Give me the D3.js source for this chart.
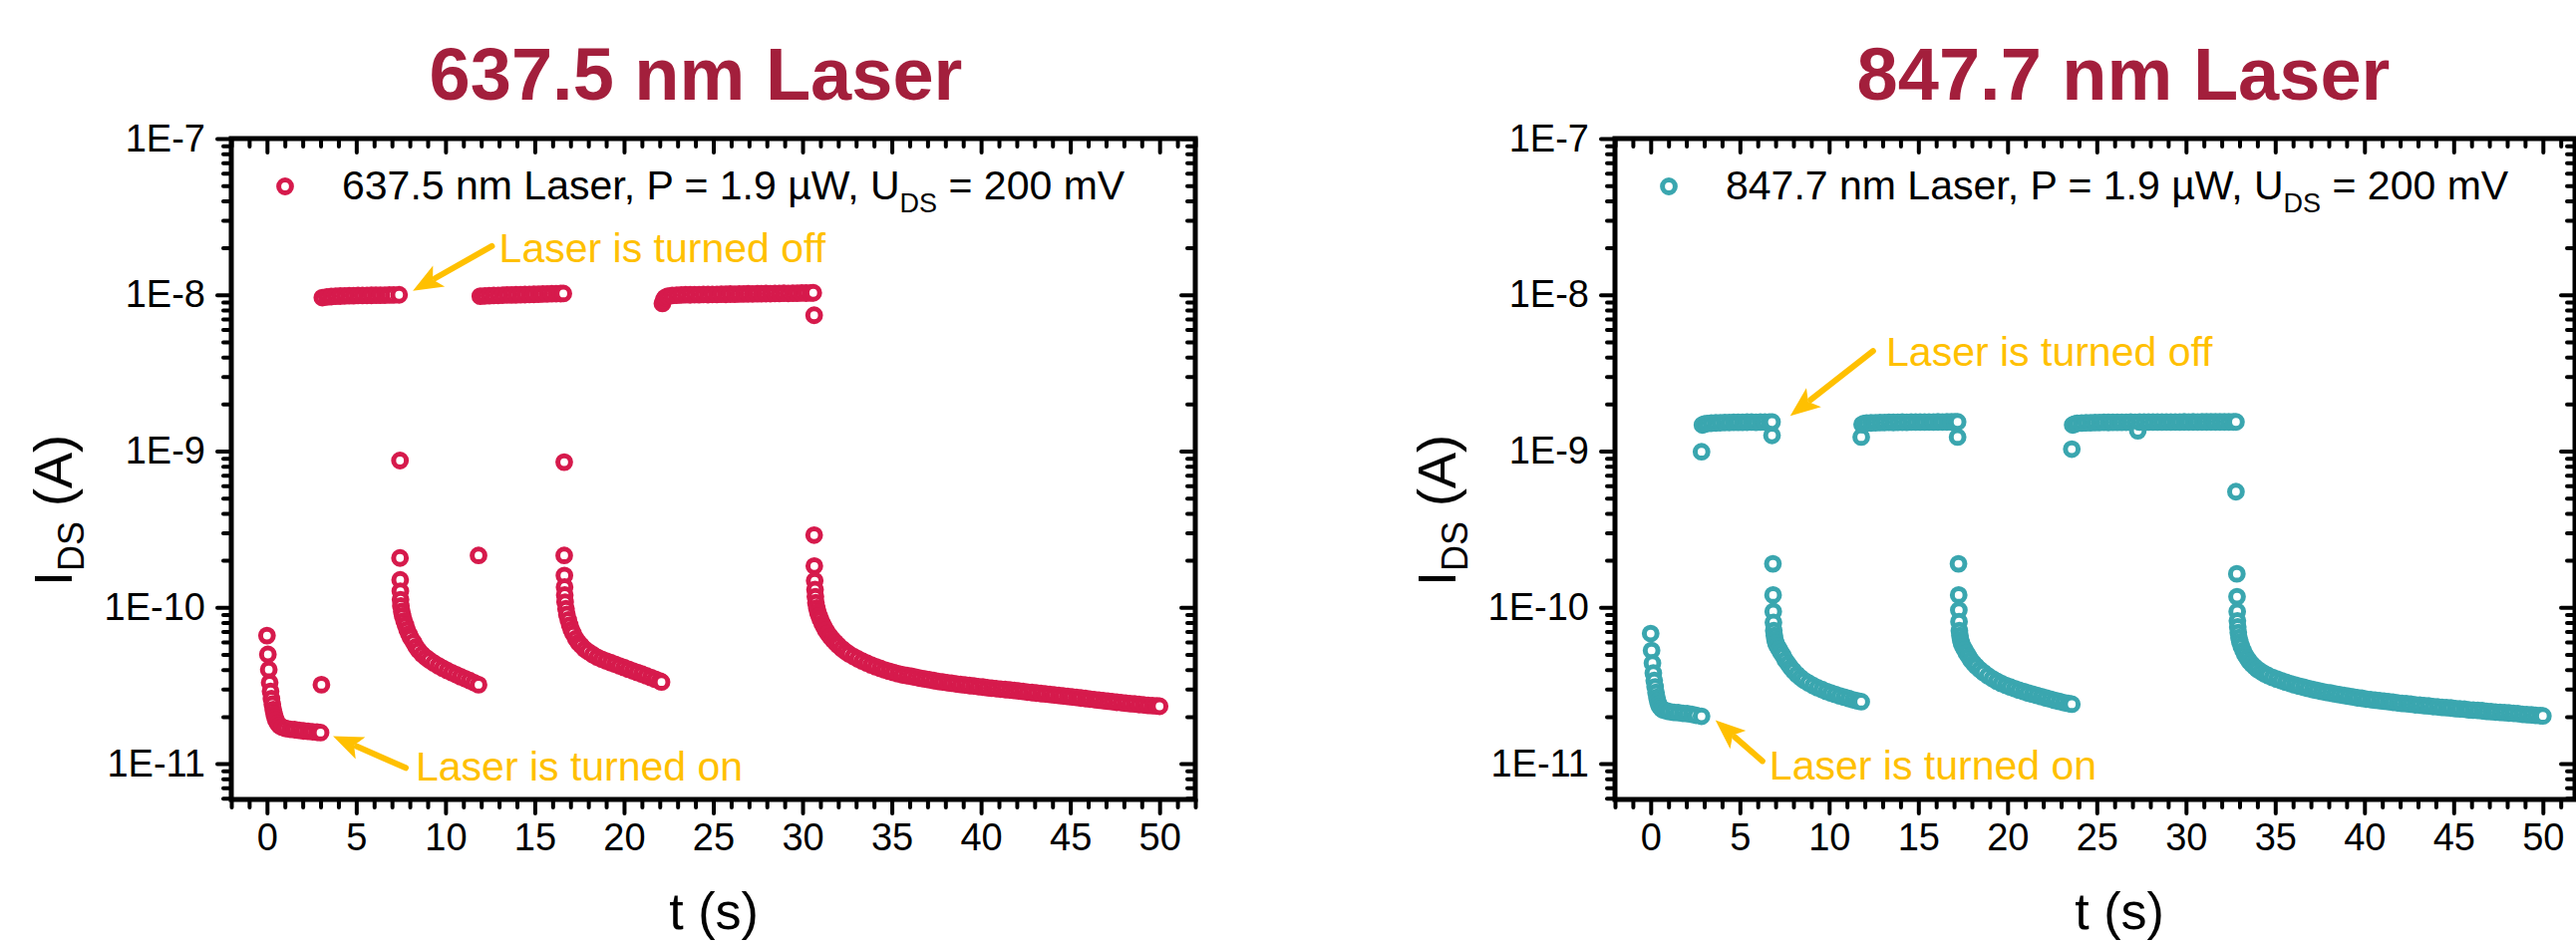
<!DOCTYPE html>
<html>
<head>
<meta charset="utf-8">
<script src="https://cdnjs.cloudflare.com/ajax/libs/d3/7.8.5/d3.min.js"></script>
<style>
  body { margin: 0; background: #fff; }
</style>
</head>
<body>
<script>
    // ---- data (current in pA, time in s) ----

    // 637.5 nm laser
    var redDark0 = [[0,66],[0.05,50],[0.1,40],[0.15,33],[0.2,29],[0.25,26],[0.3,24],[0.35,22.2],[0.4,20.8],[0.45,19.8],[0.5,19],[0.6,18.1],[0.7,17.5],[0.85,17.1],[1.05,16.8],[1.3,16.6],[1.55,16.5],[1.8,16.35],[2.05,16.2],[2.3,16.1],[2.55,16.0],[2.8,15.9],[3.0,15.8]];
    var redOn1 = [[3.1,9600],[3.35,9700],[3.6,9750],[3.85,9800],[4.1,9820],[4.35,9850],[4.6,9870],[4.85,9880],[5.1,9900],[5.35,9910],[5.6,9920],[5.85,9930],[6.1,9940],[6.35,9950],[6.6,9960],[6.85,9970],[7.1,9980],[7.4,10000]];
    var redDecay1 = [[7.45,207],[7.46,150],[7.47,127],[7.48,112],[7.5,102],[7.55,94],[7.6,88],[7.68,82],[7.76,77],[7.85,72],[7.95,67.5],[8.05,64],[8.2,60],[8.35,56],[8.5,53],[8.7,50],[8.9,47.8],[9.1,46],[9.35,44],[9.6,42.3],[9.85,40.8],[10.1,39.4],[10.35,38.2],[10.6,37.1],[10.85,36],[11.1,35],[11.35,34],[11.6,33],[11.85,32]];
    var redOn2 = [[11.95,9800],[12.2,9850],[12.45,9880],[12.7,9900],[12.95,9920],[13.2,9950],[13.45,9970],[13.7,9990],[13.95,10000],[14.2,10020],[14.45,10040],[14.7,10060],[14.95,10080],[15.2,10100],[15.45,10120],[15.7,10140],[15.95,10160],[16.2,10180],[16.45,10190],[16.6,10200]];
    var redDecay2 = [[16.65,215],[16.66,160],[16.67,135],[16.68,120],[16.7,108],[16.75,98],[16.8,90],[16.88,83],[16.96,77],[17.05,72],[17.15,68],[17.3,63],[17.45,59.5],[17.6,57],[17.8,54],[18.0,52],[18.25,49.8],[18.5,48],[18.75,46.6],[19.0,45.4],[19.25,44.3],[19.5,43.3],[19.75,42.2],[20.0,41.2],[20.25,40.2],[20.5,39.2],[20.75,38.3],[21.0,37.4],[21.25,36.5],[21.5,35.6],[21.75,34.7],[22.0,33.8],[22.1,33.3]];
    var redOn3 = [[22.15,8800],[22.22,9300],[22.3,9600],[22.45,9800],[22.7,9900],[22.95,9950],[23.2,9980],[23.45,10010],[23.7,10000],[23.95,10030],[24.2,10020],[24.45,10050],[24.7,10040],[24.95,10070],[25.2,10060],[25.45,10090],[25.7,10080],[25.95,10110],[26.2,10100],[26.45,10130],[26.7,10120],[26.95,10150],[27.2,10140],[27.45,10170],[27.7,10160],[27.95,10190],[28.2,10180],[28.45,10210],[28.7,10200],[28.95,10230],[29.2,10220],[29.45,10250],[29.7,10240],[29.95,10270],[30.2,10260],[30.45,10280],[30.6,10300]];
    var redDecay3 = [[30.66,184],[30.68,148],[30.7,130],[30.72,117],[30.75,107],[30.8,99],[30.86,93],[30.93,88],[31.0,84],[31.1,79],[31.2,75],[31.3,71.5],[31.42,68],[31.55,65],[31.7,62],[31.85,59.5],[32.0,57.2],[32.2,54.5],[32.4,52.3],[32.6,50.4],[32.85,48.5],[33.1,46.8],[33.35,45.3],[33.6,44],[33.85,42.8],[34.1,41.7],[34.35,40.7],[34.6,39.8],[34.85,39],[35.1,38.3],[35.35,37.6],[35.6,37],[35.85,36.6],[36.1,36.2],[36.35,35.7],[36.6,35.2],[36.85,34.8],[37.1,34.4],[37.35,34.0],[37.6,33.6],[37.85,33.3],[38.1,33.0],[38.35,32.7],[38.6,32.4],[38.85,32.1],[39.1,31.9],[39.35,31.6],[39.6,31.4],[39.85,31.1],[40.1,30.9],[40.35,30.6],[40.6,30.4],[40.85,30.2],[41.1,30.0],[41.35,29.8],[41.6,29.6],[41.85,29.4],[42.1,29.2],[42.35,29.0],[42.6,28.7],[42.85,28.5],[43.1,28.3],[43.35,28.1],[43.6,27.9],[43.85,27.7],[44.1,27.5],[44.35,27.3],[44.6,27.1],[44.85,26.9],[45.1,26.7],[45.35,26.5],[45.6,26.3],[45.85,26.1],[46.1,25.9],[46.35,25.7],[46.6,25.5],[46.85,25.3],[47.1,25.1],[47.35,24.9],[47.6,24.7],[47.85,24.6],[48.1,24.4],[48.35,24.2],[48.6,24.1],[48.85,23.9],[49.1,23.8],[49.35,23.6],[49.6,23.5],[49.85,23.4],[50.0,23.3]];
    var redSingles = [[3.05,32],[7.45,870],[11.85,215],[16.65,850],[30.65,7400],[30.65,290]];

    // 847.7 nm laser
    var tealDark0 = [[0,68],[0.05,53],[0.1,44],[0.15,38],[0.2,34],[0.25,31],[0.3,28.5],[0.35,26.5],[0.4,25],[0.45,24],[0.5,23.2],[0.6,22.5],[0.7,22.1],[0.85,21.8],[1.05,21.5],[1.3,21.3],[1.55,21.2],[1.8,21.0],[2.05,20.9],[2.3,20.7],[2.55,20.4],[2.85,20.1]];
    var tealOn1 = [[2.9,1470],[3.0,1490],[3.15,1500],[3.4,1510],[3.65,1515],[3.9,1520],[4.15,1525],[4.4,1525],[4.65,1530],[4.9,1530],[5.15,1528],[5.4,1532],[5.65,1534],[5.9,1530],[6.15,1535],[6.4,1533],[6.65,1536],[6.8,1535]];
    var tealDecay1 = [[6.85,190],[6.86,120],[6.87,94],[6.88,80],[6.9,71],[6.93,66],[6.97,62],[7.02,59],[7.1,56.5],[7.2,54],[7.3,51.5],[7.42,49],[7.55,46],[7.7,43.5],[7.85,41.2],[8.0,39.3],[8.2,37.2],[8.4,35.5],[8.6,34.1],[8.85,32.8],[9.1,31.6],[9.35,30.6],[9.6,29.8],[9.85,29.0],[10.1,28.3],[10.35,27.7],[10.6,27.1],[10.85,26.6],[11.1,26.1],[11.35,25.6],[11.6,25.2],[11.8,24.9]];
    var tealOn2 = [[11.85,1480],[11.95,1500],[12.1,1510],[12.35,1515],[12.6,1520],[12.85,1522],[13.1,1525],[13.35,1528],[13.6,1526],[13.85,1530],[14.1,1532],[14.35,1530],[14.6,1534],[14.85,1533],[15.1,1535],[15.35,1534],[15.6,1536],[15.85,1535],[16.1,1537],[16.35,1536],[16.6,1538],[16.85,1537],[17.05,1538],[17.2,1538]];
    var tealDecay2 = [[17.25,190],[17.26,120],[17.27,96],[17.28,81],[17.3,71],[17.33,66],[17.37,62],[17.42,59],[17.5,56],[17.6,53.5],[17.7,51],[17.82,48.5],[17.95,46],[18.1,43.8],[18.25,42],[18.45,40],[18.65,38.3],[18.9,36.5],[19.15,35],[19.4,33.7],[19.65,32.6],[19.9,31.7],[20.15,30.9],[20.4,30.2],[20.65,29.5],[20.9,28.9],[21.15,28.3],[21.4,27.8],[21.65,27.3],[21.9,26.8],[22.15,26.3],[22.4,25.9],[22.65,25.4],[22.9,25.0],[23.15,24.6],[23.4,24.3],[23.6,24.0]];
    var tealOn3 = [[23.65,1470],[23.75,1490],[23.9,1505],[24.15,1512],[24.4,1518],[24.65,1520],[24.9,1523],[25.15,1525],[25.4,1527],[25.65,1526],[25.9,1528],[26.15,1530],[26.4,1529],[26.65,1531],[26.9,1532],[27.15,1530],[27.4,1533],[27.65,1532],[27.9,1534],[28.15,1533],[28.4,1535],[28.65,1534],[28.9,1536],[29.15,1535],[29.4,1536],[29.65,1535],[29.9,1537],[30.15,1536],[30.4,1537],[30.65,1536],[30.9,1538],[31.15,1537],[31.4,1538],[31.65,1537],[31.9,1538],[32.15,1538],[32.4,1537],[32.65,1538],[32.8,1538]];
    var tealDecay3 = [[32.85,164],[32.86,117],[32.87,94],[32.88,82],[32.9,75],[32.93,69],[32.97,64],[33.02,60],[33.1,56.5],[33.2,53],[33.3,50],[33.42,47.5],[33.55,45.2],[33.7,43.2],[33.85,41.6],[34.0,40.2],[34.2,38.8],[34.4,37.6],[34.6,36.6],[34.85,35.6],[35.1,34.7],[35.35,33.9],[35.6,33.2],[35.85,32.5],[36.1,31.9],[36.35,31.3],[36.6,30.8],[36.85,30.3],[37.1,29.8],[37.35,29.4],[37.6,29.0],[37.85,28.6],[38.1,28.3],[38.35,27.9],[38.6,27.6],[38.85,27.3],[39.1,27.0],[39.35,26.7],[39.6,26.4],[39.85,26.2],[40.1,25.9],[40.35,25.7],[40.6,25.5],[40.85,25.3],[41.1,25.1],[41.35,24.9],[41.6,24.7],[41.85,24.5],[42.1,24.3],[42.35,24.2],[42.6,24.0],[42.85,23.8],[43.1,23.7],[43.35,23.5],[43.6,23.4],[43.85,23.2],[44.1,23.1],[44.35,22.9],[44.6,22.8],[44.85,22.7],[45.1,22.5],[45.35,22.4],[45.6,22.3],[45.85,22.1],[46.1,22.0],[46.35,21.9],[46.6,21.8],[46.85,21.6],[47.1,21.5],[47.35,21.4],[47.6,21.3],[47.85,21.2],[48.1,21.1],[48.35,21.0],[48.6,20.9],[48.85,20.7],[49.1,20.6],[49.35,20.5],[49.6,20.4],[49.85,20.3],[50.0,20.2]];
    var tealSingles = [[2.85,990],[6.8,1260],[11.8,1230],[17.2,1230],[23.6,1030],[27.3,1350],[32.8,550]];

    // ticks
    var xMajor = [0, 5, 10, 15, 20, 25, 30, 35, 40, 45, 50];
    var yMajor = [1e-11, 1e-10, 1e-9, 1e-8, 1e-7];

    // annotations: [t, I(A)] for text, arrow start, arrow tip
    var redNotes = [
        {label: "Laser is turned off", text: [13.0, 1.62e-8], from: [12.6, 2.05e-8], to: [8.17, 1.06e-8]},
        {label: "Laser is turned on", text: [8.33, 7.76e-12], from: [7.77, 9.4e-12], to: [3.7, 1.5e-11]}
    ];
    var tealNotes = [
        {label: "Laser is turned off", text: [13.2, 3.5e-9], from: [12.46, 4.37e-9], to: [7.82, 1.68e-9]},
        {label: "Laser is turned on", text: [6.65, 7.9e-12], from: [6.26, 1.04e-11], to: [3.63, 1.9e-11]}
    ];

    var font = "'Liberation Sans', Arial, Helvetica, sans-serif";
    var plotTop = 139, plotBottom = 802;
    var markerR = 6.4, markerW = 5;

    var svg = d3.select("body").append("svg")
                .attr("width", 2584)
                .attr("height", 946)
                .style("background", "#fff");

    var yScale = d3.scaleLog().domain([5.9e-12, 1e-7]).range([plotBottom, plotTop]);

    // minor ticks on the log axis (2..9 per decade)
    var yMinor = [];
    for (var e = -12; e <= -8; e++) {
        for (var k = 2; k <= 9; k++) {
            var v = k * Math.pow(10, e);
            if (v >= 5.9e-12 && v <= 1e-7) yMinor.push(v);
        }
    }
    var yFormat = function(d) { return "1E" + Math.round(Math.log10(d)); };

    var styleAxis = function(sel) {
        sel.attr("font-family", font).attr("font-size", 38);
        sel.select(".domain").remove();
        sel.selectAll(".tick line")
           .attr("stroke", "#000")
           .attr("stroke-width", 4)
           .attr("stroke-linecap", "round");
        sel.selectAll(".tick text").attr("fill", "#000");
    };

    var drawPanel = function(p) {
        var xScale = d3.scaleLinear().domain(p.xDomain).range([p.left, p.right]);
        var xMinor = d3.range(p.xDomain[0], 53).filter(function(d) {
            return d % 5 !== 0 && d <= p.xDomain[1];
        });
        var g = svg.append("g");

        // bottom axis (ticks out)
        g.append("g").attr("transform", "translate(0," + plotBottom + ")")
         .call(d3.axisBottom(xScale).tickValues(xMajor).tickSize(14).tickPadding(10).tickFormat(d3.format("d")))
         .call(styleAxis);
        g.append("g").attr("transform", "translate(0," + plotBottom + ")")
         .call(d3.axisBottom(xScale).tickValues(xMinor).tickSize(8).tickFormat(""))
         .call(styleAxis);
        // top axis (mirror, ticks point down)
        g.append("g").attr("transform", "translate(0," + plotTop + ")")
         .call(d3.axisTop(xScale).tickValues(xMajor).tickSize(-14).tickFormat(""))
         .call(styleAxis);
        g.append("g").attr("transform", "translate(0," + plotTop + ")")
         .call(d3.axisTop(xScale).tickValues(xMinor).tickSize(-8).tickFormat(""))
         .call(styleAxis);
        // left axis
        g.append("g").attr("transform", "translate(" + p.left + ",0)")
         .call(d3.axisLeft(yScale).tickValues(yMajor).tickSize(14).tickPadding(12).tickFormat(yFormat))
         .call(styleAxis);
        g.append("g").attr("transform", "translate(" + p.left + ",0)")
         .call(d3.axisLeft(yScale).tickValues(yMinor).tickSize(8).tickFormat(""))
         .call(styleAxis);
        // right axis (mirror, ticks point left)
        g.append("g").attr("transform", "translate(" + p.right + ",0)")
         .call(d3.axisRight(yScale).tickValues(yMajor).tickSize(-14).tickFormat(""))
         .call(styleAxis);
        g.append("g").attr("transform", "translate(" + p.right + ",0)")
         .call(d3.axisRight(yScale).tickValues(yMinor).tickSize(-8).tickFormat(""))
         .call(styleAxis);

        // frame
        g.append("rect")
         .attr("x", p.left).attr("y", plotTop)
         .attr("width", p.right - p.left).attr("height", plotBottom - plotTop)
         .attr("fill", "none").attr("stroke", "#000").attr("stroke-width", 5);

        // points in time order, white filled rings
        var pts = [].concat.apply([], p.series).sort(function(a, b) { return a[0] - b[0]; });
        g.append("g").selectAll("circle")
         .data(pts)
         .enter().append("circle")
         .attr("cx", function(d) { return xScale(d[0]); })
         .attr("cy", function(d) { return yScale(d[1] * 1e-12); })
         .attr("r", markerR)
         .attr("fill", "#fff")
         .attr("stroke", p.color)
         .attr("stroke-width", markerW);

        // legend
        g.append("circle")
         .attr("cx", p.left + 54).attr("cy", plotTop + 48)
         .attr("r", markerR).attr("fill", "#fff")
         .attr("stroke", p.color).attr("stroke-width", markerW);
        var lt = g.append("text")
         .attr("x", p.left + 111).attr("y", plotTop + 61)
         .attr("font-family", font).attr("font-size", 41).attr("fill", "#000");
        lt.append("tspan").text(p.legend);
        lt.append("tspan").attr("dy", 13).attr("font-size", 27).text("DS");
        lt.append("tspan").attr("dy", -13).text(" = 200 mV");

        // annotations
        p.notes.forEach(function(n) {
            var x1 = xScale(n.from[0]), y1 = yScale(n.from[1]);
            var x2 = xScale(n.to[0]), y2 = yScale(n.to[1]);
            var dx = x2 - x1, dy = y2 - y1, len = Math.sqrt(dx * dx + dy * dy);
            var ux = dx / len, uy = dy / len;
            var head = 30, half = 12;
            var bx = x2 - ux * head, by = y2 - uy * head;
            g.append("line")
             .attr("x1", x1).attr("y1", y1)
             .attr("x2", bx + ux * 4).attr("y2", by + uy * 4)
             .attr("stroke", "#ffc000").attr("stroke-width", 6).attr("stroke-linecap", "round");
            g.append("path")
             .attr("d", "M" + x2 + "," + y2 +
                        "L" + (bx - uy * half) + "," + (by + ux * half) +
                        "L" + (bx + ux * 7) + "," + (by + uy * 7) +
                        "L" + (bx + uy * half) + "," + (by - ux * half) + "Z")
             .attr("fill", "#ffc000");
            g.append("text")
             .attr("x", xScale(n.text[0])).attr("y", yScale(n.text[1]))
             .attr("font-family", font).attr("font-size", 41).attr("fill", "#ffc000")
             .text(n.label);
        });

        // titles
        g.append("text")
         .attr("x", p.titleX).attr("y", 100)
         .attr("text-anchor", "middle")
         .attr("font-family", font).attr("font-size", 74).attr("font-weight", "bold")
         .attr("fill", "#a31f3c")
         .text(p.title);
        g.append("text")
         .attr("x", p.xTitleX).attr("y", 932)
         .attr("text-anchor", "middle")
         .attr("font-family", font).attr("font-size", 52).attr("fill", "#000")
         .text("t (s)");
        var yt = g.append("text")
         .attr("transform", "translate(" + (p.left - 160) + ",512) rotate(-90)")
         .attr("text-anchor", "middle")
         .attr("font-family", font).attr("font-size", 54).attr("fill", "#000");
        yt.append("tspan").text("I");
        yt.append("tspan").attr("dy", 12).attr("font-size", 36).text("DS");
        yt.append("tspan").attr("dy", -12).text(" (A)");
    };

    drawPanel({
        left: 232, right: 1199, xDomain: [-2, 52],
        color: "#d61a4c", title: "637.5 nm Laser", titleX: 698, xTitleX: 716,
        legend: "637.5 nm Laser, P = 1.9 \u00b5W, U",
        series: [redDark0, redOn1, redDecay1, redOn2, redDecay2, redOn3, redDecay3, redSingles],
        notes: redNotes
    });

    drawPanel({
        left: 1620, right: 2583, xDomain: [-2, 51.8],
        color: "#3aa6af", title: "847.7 nm Laser", titleX: 2130, xTitleX: 2126,
        legend: "847.7 nm Laser, P = 1.9 \u00b5W, U",
        series: [tealDark0, tealOn1, tealDecay1, tealOn2, tealDecay2, tealOn3, tealDecay3, tealSingles],
        notes: tealNotes
    });
</script>
</body>
</html>
